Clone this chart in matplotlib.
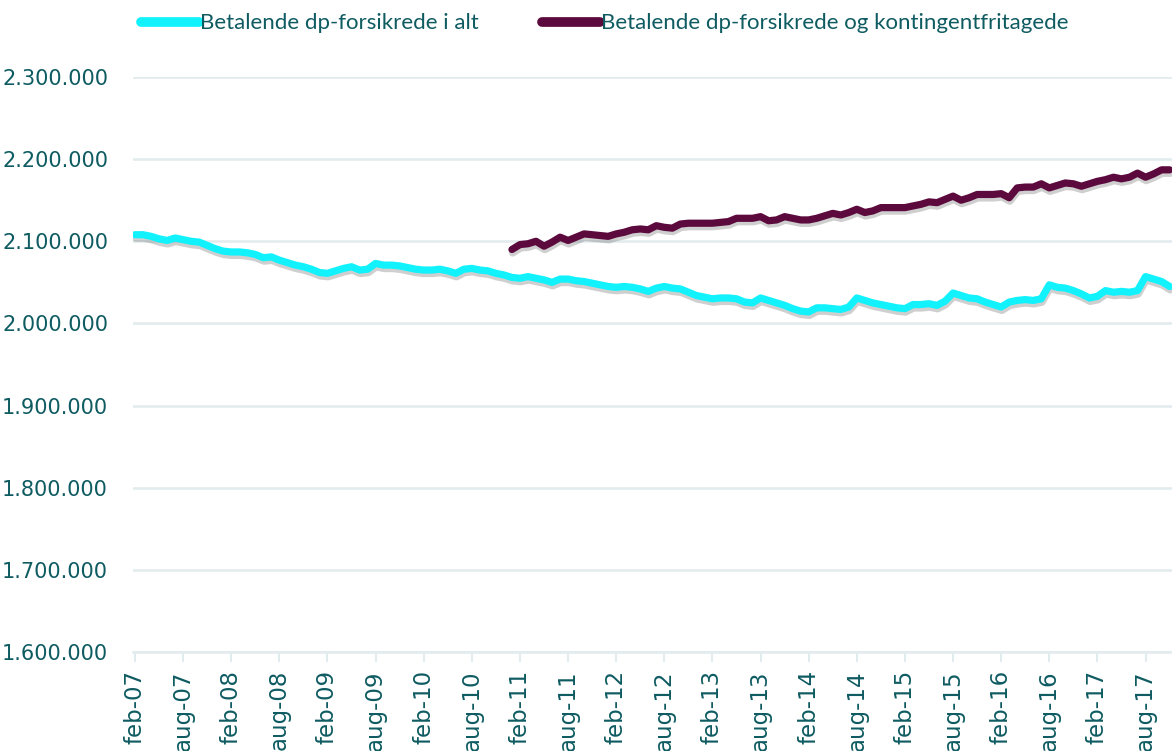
import matplotlib
matplotlib.use("Agg")
import matplotlib.pyplot as plt
import matplotlib.patheffects as pe
from matplotlib.lines import Line2D
from matplotlib.ticker import FuncFormatter, FixedLocator
import numpy as np

plt.rcParams["font.family"] = ["DejaVu Sans"]

# ---------------- data ----------------
tick_labels = ["feb-07", "aug-07", "feb-08", "aug-08", "feb-09", "aug-09",
               "feb-10", "aug-10", "feb-11", "aug-11", "feb-12", "aug-12",
               "feb-13", "aug-13", "feb-14", "aug-14", "feb-15", "aug-15",
               "feb-16", "aug-16", "feb-17", "aug-17"]

# monthly values (thousands), feb-07 ... nov-17
betalende_i_alt = [
    2108, 2108, 2106, 2103, 2101, 2104, 2102, 2100, 2099, 2095, 2091, 2088,
    2087, 2087, 2086, 2084, 2080, 2081, 2077, 2074, 2071, 2069, 2066, 2062,
    2061, 2064, 2067, 2069, 2065, 2066, 2073, 2071, 2071, 2070, 2068, 2066,
    2065, 2065, 2066, 2064, 2061, 2066, 2067, 2065, 2064, 2061, 2059, 2056,
    2055, 2057, 2055, 2053, 2050, 2054, 2054, 2052, 2051, 2049, 2047, 2045,
    2044, 2045, 2044, 2042, 2039, 2043, 2045, 2043, 2042, 2038, 2034, 2032,
    2030, 2031, 2031, 2030, 2026, 2025, 2031, 2028, 2025, 2022, 2018, 2015,
    2014, 2019, 2019, 2018, 2017, 2020, 2031, 2028, 2025, 2023, 2021, 2019,
    2018, 2023, 2023, 2024, 2022, 2027, 2037, 2034, 2031, 2030, 2026, 2023,
    2020, 2026, 2028, 2029, 2028, 2030, 2047, 2044, 2043, 2040, 2036, 2031,
    2033, 2040, 2038, 2039, 2038, 2040, 2057, 2054, 2051, 2045,
]

# starts jan-11
kontingentfri_start = 47
betalende_og_kontingentfri = [
    2090, 2096, 2097, 2100, 2094, 2099, 2105, 2101, 2105, 2109, 2108, 2107,
    2106, 2109, 2111, 2114, 2115, 2114, 2119, 2117, 2116, 2121, 2122, 2122,
    2122, 2122, 2123, 2124, 2128, 2128, 2128, 2130, 2125, 2126, 2130, 2128,
    2126, 2126, 2128, 2131, 2134, 2132, 2135, 2139, 2135, 2137, 2141, 2141,
    2141, 2141, 2143, 2145, 2148, 2147, 2151, 2155, 2150, 2153, 2157, 2157,
    2157, 2158, 2153, 2165, 2166, 2166, 2170, 2165, 2168, 2171, 2170, 2167,
    2170, 2173, 2175, 2178, 2176, 2178, 2183, 2178, 2182, 2187, 2187,
]

series_names = ["Betalende dp-forsikrede i alt",
                "Betalende dp-forsikrede og kontingentfritagede"]
colors = ["#12F2FD", "#5C0A3E"]
text_color = "#0E5B61"
grid_color = "#E2EBED"

# ---------------- figure ----------------
fig = plt.figure(figsize=(11.72, 7.51), dpi=100)
ax = fig.add_axes([133 / 1172, 1 - 652 / 751, 1 - 133 / 1172, 575 / 751])

x_all = np.arange(len(betalende_i_alt))
y1 = np.array(betalende_i_alt) * 1000
x2 = np.arange(kontingentfri_start, kontingentfri_start + len(betalende_og_kontingentfri))
y2 = np.array(betalende_og_kontingentfri) * 1000

shadow = [pe.SimpleLineShadow(offset=(0.5, -2.5), shadow_color="#606060", alpha=0.3),
          pe.Normal()]
ax.plot(x_all, y1, color=colors[0], lw=5.2, solid_joinstyle="round",
        solid_capstyle="round", path_effects=shadow, zorder=3)
ax.plot(x2, y2, color=colors[1], lw=5.2, solid_joinstyle="round",
        solid_capstyle="round", path_effects=shadow, zorder=3)

ax.set_ylim(1_600_000, 2_300_000)
ax.set_xlim(-0.25, 129.3)
ax.set_yticks(np.arange(1_600_000, 2_300_001, 100_000))
ax.yaxis.set_major_formatter(FuncFormatter(lambda v, p: f"{int(v):,}".replace(",", ".")))
ax.grid(axis="y", color=grid_color, lw=1.8, zorder=0)
ax.set_axisbelow(True)

tick_pos = np.arange(0, 6 * len(tick_labels), 6)
ax.xaxis.set_major_locator(FixedLocator(tick_pos))
ax.set_xticklabels(tick_labels, rotation=90, va="top", ha="center")

for s in ["top", "right", "left"]:
    ax.spines[s].set_visible(False)
ax.spines["bottom"].set_color(grid_color)
ax.spines["bottom"].set_linewidth(1.8)

ax.tick_params(axis="y", length=0, pad=18, labelsize=15, labelcolor=text_color)
ax.tick_params(axis="x", length=7, width=1.5, color=grid_color, pad=6,
               labelsize=16.5, labelcolor=text_color)

handles = [Line2D([0], [0], color=c, lw=7, solid_capstyle="round") for c in colors]
leg = fig.legend(handles, series_names, loc="center", bbox_to_anchor=(0.5158, 0.969),
                 ncol=2, frameon=False, handlelength=2.6, handletextpad=0.05,
                 columnspacing=2.85, prop={"family": "Lato", "size": 16})
for t in leg.get_texts():
    t.set_color(text_color)

fig.savefig("out.png", dpi=100)
